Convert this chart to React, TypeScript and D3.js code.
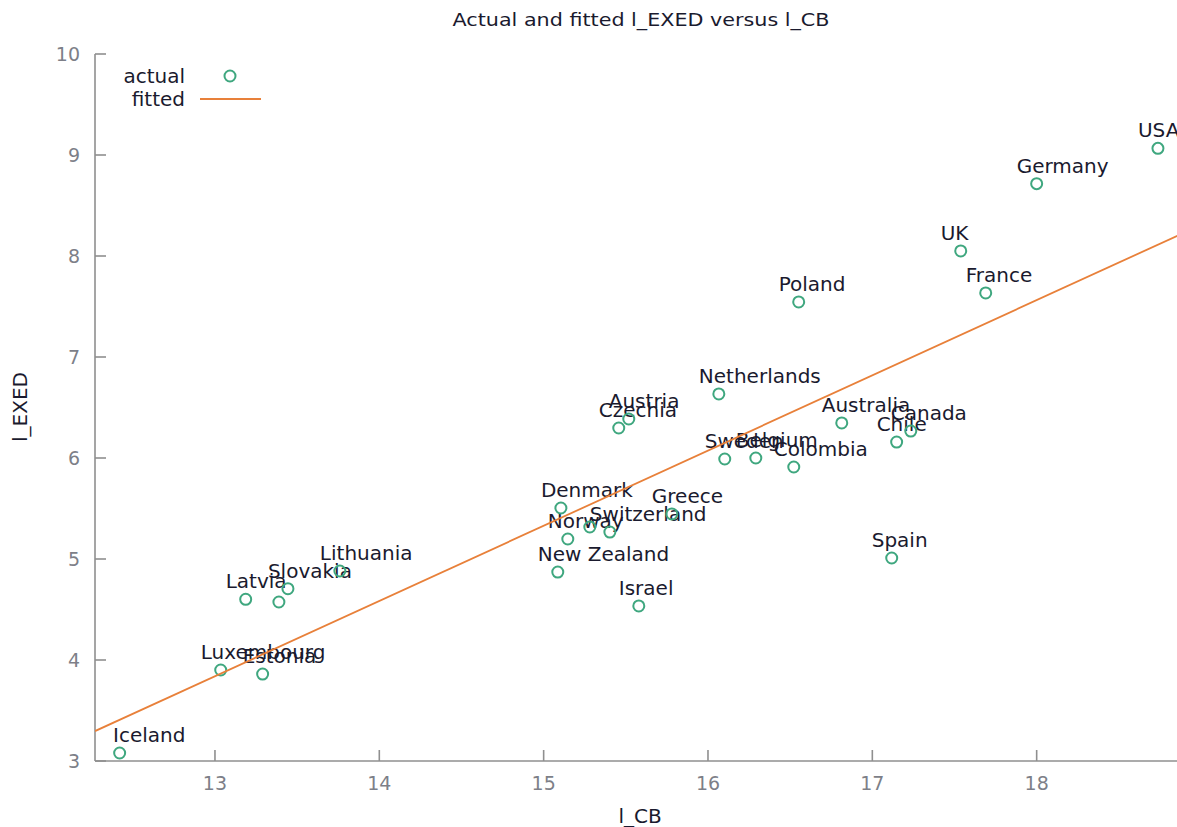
import React from 'react';
import { scaleLinear, line } from 'd3';

// l_CB (x) and l_EXED (y) per country
const countries = [
  'Iceland', 'Luxembourg', 'Estonia', 'Latvia', '', 'Slovakia', 'Lithuania',
  'Denmark', 'Norway', '', 'Switzerland', 'Greece', 'New Zealand', 'Israel',
  'Czechia', 'Austria', 'Netherlands', 'Sweden', 'Belgium', 'Colombia',
  'Poland', 'Australia', 'Chile', 'Canada', 'Spain', 'UK', 'France',
  'Germany', 'USA',
];
const lCB = [
  12.42, 13.035, 13.29, 13.187, 13.389, 13.444, 13.76,
  15.105, 15.147, 15.281, 15.403, 15.78, 15.086, 15.579,
  15.457, 15.518, 16.066, 16.102, 16.291, 16.522,
  16.552, 16.814, 17.148, 17.234, 17.118, 17.538, 17.69,
  18.0, 18.738,
];
const lEXED = [
  3.079, 3.901, 3.861, 4.601, 4.574, 4.706, 4.881,
  5.505, 5.198, 5.317, 5.267, 5.446, 4.871, 4.535,
  6.297, 6.386, 6.634, 5.99, 6.0, 5.911,
  7.545, 6.347, 6.158, 6.267, 5.01, 8.05, 7.634,
  8.716, 9.066,
];
// fitted line: l_EXED = a + b * l_CB
const fitCoef = [-5.84, 0.7446];

const xTicks = [13, 14, 15, 16, 17, 18];
const yTicks = [3, 4, 5, 6, 7, 8, 9, 10];

const W = 1177;
const H = 827;
const green = '#3fa77f';
const orange = '#e8803a';
const axisCol = '#8f8f8f';
const font = '"DejaVu Sans", Verdana, sans-serif';

export default function App() {
  const x = scaleLinear().domain([12.27, 19]).range([95, 1201]);
  const y = scaleLinear().domain([3, 10]).range([761, 54]);
  const [x0, x1] = x.domain();

  const fitLine = line<number>()
    .x((d) => x(d))
    .y((d) => y(fitCoef[0] + fitCoef[1] * d));

  return (
    <svg width={W} height={H} style={{ position: 'absolute', left: 0, top: 0, background: '#fff' }}
      fontFamily={font}>
      <defs>
        <clipPath id="plot">
          <rect x={x(x0)} y={0} width={W - x(x0)} height={y(3)} />
        </clipPath>
      </defs>
      <rect width={W} height={H} fill="#fff" />

      <text x={641} y={26} textAnchor="middle" fontSize={17} fill="#1a1a2e"
        textLength={377} lengthAdjust="spacingAndGlyphs">
        Actual and fitted l_EXED versus l_CB
      </text>

      {/* axes */}
      <line x1={x(x0)} x2={x(x0)} y1={y(10)} y2={y(3)} stroke={axisCol} strokeWidth={1.6} />
      <line x1={x(x0)} x2={W} y1={y(3)} y2={y(3)} stroke={axisCol} strokeWidth={1.6} />
      {yTicks.map((t) => (
        <g key={'y' + t}>
          <line x1={x(x0)} x2={x(x0) + 11} y1={y(t)} y2={y(t)} stroke={axisCol} strokeWidth={1.6} />
          <text x={80} y={y(t)} dy="0.36em" textAnchor="end" fontSize={19} fill="#7d7f88">{t}</text>
        </g>
      ))}
      {xTicks.map((t) => (
        <g key={'x' + t}>
          <line x1={x(t)} x2={x(t)} y1={y(3)} y2={y(3) - 11} stroke={axisCol} strokeWidth={1.6} />
          <text x={x(t)} y={783} dy="0.36em" textAnchor="middle" fontSize={19} fill="#7d7f88">{t}</text>
        </g>
      ))}
      <text x={640} y={816} dy="0.36em" textAnchor="middle" fontSize={20} fill="#1a1a2e">l_CB</text>
      <text transform={`translate(20,407) rotate(-90)`} dy="0.36em" textAnchor="middle" fontSize={20}
        fill="#1a1a2e">l_EXED</text>

      {/* country labels */}
      {countries.map((c, i) =>
        c ? (
          <text key={'l' + i} x={Math.max(x(lCB[i]) - 20, x(x0) + 18)} y={y(lEXED[i]) - 11}
            fontSize={20} fill="#1a1a2e">{c}</text>
        ) : null
      )}

      {/* points */}
      {lCB.map((v, i) => (
        <circle key={'p' + i} cx={x(v)} cy={y(lEXED[i])} r={5.5} fill="none" stroke={green} strokeWidth={2} />
      ))}

      {/* fitted line */}
      <path d={fitLine([x0, x1]) || ''} fill="none" stroke={orange} strokeWidth={1.8} clipPath="url(#plot)" />

      {/* legend */}
      <text x={185} y={76} dy="0.36em" textAnchor="end" fontSize={20} fill="#1a1a2e">actual</text>
      <circle cx={230} cy={76} r={5.5} fill="none" stroke={green} strokeWidth={2} />
      <text x={185} y={99} dy="0.36em" textAnchor="end" fontSize={20} fill="#1a1a2e">fitted</text>
      <line x1={200} x2={261} y1={99} y2={99} stroke={orange} strokeWidth={2} />
    </svg>
  );
}
